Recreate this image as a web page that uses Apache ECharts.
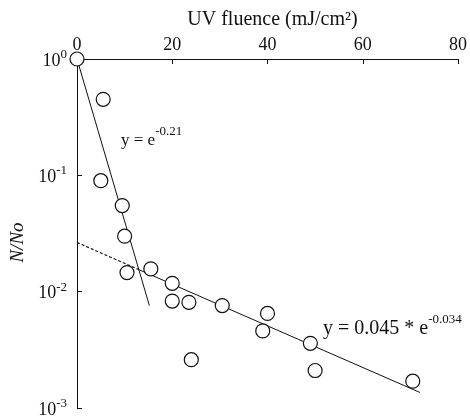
<!DOCTYPE html>
<html><head><meta charset="utf-8">
<script src="https://cdn.jsdelivr.net/npm/echarts@6/dist/echarts.min.js"></script>
<style>html,body{margin:0;padding:0;background:#fff}#c{width:470px;height:420px}</style>
</head><body><div id="c"></div>
<script>
// Data
const fluence  = [0, 5.5, 5, 9.5, 10, 10.5, 15.5, 20, 20, 23.5, 30.5, 40, 39, 24, 49, 50, 70.5];
const survival = [1, 0.45, 0.09, 0.055, 0.03, 0.0146, 0.0157, 0.0118, 0.0083, 0.0081, 0.0076, 0.0065, 0.0046, 0.0026, 0.0036, 0.0021, 0.0017];
const fastFitX  = [0, 15.2];
const fastFitY  = [1, 0.0076];
const slowDashX = [0, 13.1];
const slowDashY = [0.0265, 0.0154];
const slowFitX  = [13.1, 72];
const slowFitY  = [0.0154, 0.00136];
const xTicks = [0, 20, 40, 60, 80];
const yExponents = [0, -1, -2, -3];

const serif = '"Liberation Serif", "DejaVu Serif", serif';
const zip = (a, b) => a.map((v, i) => [v, b[i]]);

const chart = echarts.init(document.getElementById('c'));
chart.setOption({
  animation: false,
  backgroundColor: '#fff',
  grid: { left: 77, right: 9, top: 59, bottom: 12, containLabel: false },
  xAxis: {
    type: 'value', position: 'top',
    min: xTicks[0], max: xTicks[xTicks.length - 1], interval: 20,
    name: 'UV fluence (mJ/cm²)', nameLocation: 'middle', nameGap: 39,
    nameTextStyle: { fontFamily: serif, fontSize: 20, color: '#111', padding: [0, 0, 0, 10], verticalAlign: 'middle' },
    axisLine: { show: true, lineStyle: { color: '#111', width: 1 } },
    axisTick: { show: true, inside: true, length: 5, lineStyle: { color: '#111' } },
    axisLabel: { fontFamily: serif, fontSize: 18, color: '#111', margin: 5 },
    splitLine: { show: false }
  },
  yAxis: {
    type: 'log', logBase: 10, min: Math.pow(10, yExponents[3]), max: Math.pow(10, yExponents[0]),
    name: 'N/No', nameLocation: 'middle', nameGap: 50, nameRotate: 90,
    nameTextStyle: { fontFamily: serif, fontSize: 19, fontStyle: 'italic', color: '#111', padding: [0, 18, 0, 0] },
    axisLine: { show: true, lineStyle: { color: '#111', width: 1 } },
    axisTick: { show: true, inside: true, length: 5, lineStyle: { color: '#111' } },
    minorTick: { show: false },
    splitLine: { show: false },
    axisLabel: {
      margin: 10,
      formatter: v => '{b|10}{s|' + Math.round(Math.log10(v)) + '}',
      rich: {
        b: { fontFamily: serif, fontSize: 18, color: '#111', lineHeight: 22, verticalAlign: 'bottom' },
        s: { fontFamily: serif, fontSize: 13, color: '#111', lineHeight: 22, verticalAlign: 'top' }
      }
    }
  },
  series: [
    { type: 'line', data: zip(fastFitX, fastFitY), showSymbol: false, symbol: 'none',
      lineStyle: { color: '#111', width: 1 }, z: 1 },
    { type: 'line', data: zip(slowDashX, slowDashY), showSymbol: false, symbol: 'none',
      lineStyle: { color: '#111', width: 1.2, type: [3, 2] }, z: 1 },
    { type: 'line', data: zip(slowFitX, slowFitY), showSymbol: false, symbol: 'none',
      lineStyle: { color: '#111', width: 1 }, z: 1 },
    { type: 'scatter', data: zip(fluence, survival), symbol: 'circle', symbolSize: 14,
      itemStyle: { color: '#fff', borderColor: '#111', borderWidth: 1.2, opacity: 1 }, z: 3 }
  ],
  graphic: [
    { type: 'text', left: 121, top: 125, z: 10,
      style: { text: '{b|y = e}{s|-0.21}',
        rich: {
          b: { fontFamily: serif, fontSize: 17, fill: '#111', lineHeight: 24, verticalAlign: 'bottom' },
          s: { fontFamily: serif, fontSize: 13, fill: '#111', lineHeight: 24, verticalAlign: 'top' }
        } } },
    { type: 'text', left: 323, top: 313, z: 10,
      style: { text: '{b|y = 0.045 * e}{s|-0.034}',
        rich: {
          b: { fontFamily: serif, fontSize: 20, fill: '#111', lineHeight: 26, verticalAlign: 'bottom' },
          s: { fontFamily: serif, fontSize: 13, fill: '#111', lineHeight: 26, verticalAlign: 'top' }
        } } }
  ]
});
</script></body></html>
